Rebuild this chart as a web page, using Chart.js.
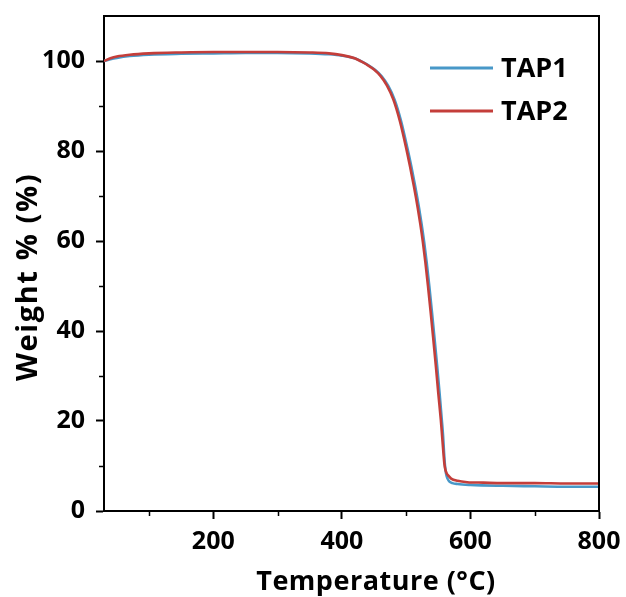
<!DOCTYPE html>
<html>
<head>
<meta charset="utf-8">
<script src="https://cdn.jsdelivr.net/npm/chart.js@4.4.1/dist/chart.umd.min.js"></script>
<style>
  html, body { margin: 0; padding: 0; background: #ffffff; }
  #wrap { width: 626px; height: 597px; position: relative; }
</style>
</head>
<body>
<div id="wrap"><canvas id="c" width="626" height="597"></canvas></div>
<script>
// ---------- data ----------
const tap2Temp = [30, 40, 50, 70, 100, 150, 200, 250, 300, 350, 380, 400, 420, 430, 440, 450, 460, 470, 480, 490, 500, 506, 512, 518, 522, 526, 530, 534, 538, 542, 546, 550, 554, 556, 558, 559.5, 561, 563, 566, 570, 580, 595, 620, 650, 700, 750, 800];
const tap2Weight = [100.0, 100.6, 101.0, 101.4, 101.7, 101.9, 102.0, 102.0, 102.0, 101.9, 101.7, 101.3, 100.6, 99.9, 99.1, 98.1, 96.7, 94.6, 91.5, 86.8, 80.7, 76.6, 72.2, 67.4, 63.8, 59.8, 55.2, 50.0, 44.4, 38.6, 32.6, 26.2, 20.2, 16.6, 12.9, 10.5, 9.2, 8.4, 7.8, 7.2, 6.7, 6.4, 6.3, 6.2, 6.2, 6.1, 6.1];

const tap1Temp = [30, 40, 50, 70, 100, 150, 200, 250, 300, 350, 380, 400, 422, 432, 442, 452, 462, 472, 482, 492, 502, 508, 514, 520, 524, 528, 532, 536, 540, 544, 548, 552, 555.5, 557.5, 559, 560.5, 562, 564, 567, 572, 580, 600, 650, 700, 750, 800];
const tap1Weight = [100.0, 100.4, 100.7, 101.1, 101.4, 101.6, 101.7, 101.8, 101.8, 101.7, 101.5, 101.2, 100.5, 99.8, 99.0, 98.0, 96.6, 94.5, 91.4, 86.7, 80.6, 76.6, 72.2, 67.4, 63.8, 59.8, 55.2, 50.0, 44.4, 38.6, 32.6, 26.2, 20.2, 16.6, 12.9, 10.0, 8.4, 7.3, 6.6, 6.2, 6.0, 5.8, 5.6, 5.5, 5.4, 5.4];

const seriesNames = ['TAP1', 'TAP2'];
const xMajorTicks = [200, 400, 600, 800];
const xMinorTicks = [100, 300, 500, 700];
const yMajorTicks = [0, 20, 40, 60, 80, 100];
const yMinorTicks = [10, 30, 50, 70, 90];
const xRange = [30, 800];
const yRange = [0, 110];
const xTitle = 'Temperature (°C)';
const yTitle = 'Weight % (%)';

// ---------- styles ----------
const BLUE = 'rgb(72,152,200)';
const RED = 'rgb(196,62,58)';
const FONT = '"Open Sans", "DejaVu Sans", sans-serif';

function toPoints(xs, ys) { return xs.map((x, i) => ({ x: x, y: ys[i] })); }

const framePlugin = {
  id: 'frameAndMinor',
  afterDraw(chart) {
    const { ctx, chartArea: a, scales } = chart;
    ctx.save();
    ctx.strokeStyle = '#000';
    ctx.lineWidth = 2;
    // top and right frame
    ctx.beginPath();
    ctx.moveTo(a.left, a.top);
    ctx.lineTo(a.right, a.top);
    ctx.lineTo(a.right, a.bottom);
    ctx.stroke();
    // minor ticks
    ctx.lineWidth = 1.5;
    ctx.beginPath();
    xMinorTicks.forEach(v => {
      const px = Math.round(scales.x.getPixelForValue(v)) + 0.5;
      ctx.moveTo(px, a.bottom);
      ctx.lineTo(px, a.bottom + 5);
    });
    yMinorTicks.forEach(v => {
      const py = Math.round(scales.y.getPixelForValue(v)) + 0.5;
      ctx.moveTo(a.left, py);
      ctx.lineTo(a.left - 5, py);
    });
    ctx.stroke();

    // axis titles
    ctx.fillStyle = '#000';
    ctx.textAlign = 'center';
    ctx.textBaseline = 'alphabetic';
    ctx.font = 'bold 27px ' + FONT;
    ctx.letterSpacing = '0.5px';
    ctx.fillText(xTitle, a.left + 272, 590);
    ctx.save();
    ctx.font = 'bold 29px ' + FONT;
    ctx.letterSpacing = '1.6px';
    ctx.translate(37, 277);
    ctx.rotate(-Math.PI / 2);
    ctx.fillText(yTitle, 0, 0);
    ctx.restore();
    ctx.letterSpacing = '0px';

    // legend
    const items = [
      { label: seriesNames[0], color: BLUE, y: 68 },
      { label: seriesNames[1], color: RED, y: 111 }
    ];
    ctx.lineWidth = 3;
    ctx.font = 'bold 27px ' + FONT;
    ctx.textBaseline = 'middle';
    ctx.textAlign = 'left';
    items.forEach(it => {
      ctx.strokeStyle = it.color;
      ctx.beginPath();
      ctx.moveTo(a.right - 169, it.y);
      ctx.lineTo(a.right - 106, it.y);
      ctx.stroke();
      ctx.fillStyle = '#000';
      ctx.fillText(it.label, a.right - 98, it.y + 1);
    });
    ctx.restore();
  }
};

new Chart(document.getElementById('c'), {
  type: 'line',
  data: {
    datasets: [
      {
        label: seriesNames[0],
        data: toPoints(tap1Temp, tap1Weight),
        borderColor: BLUE,
        borderWidth: 2.6,
        pointRadius: 0,
        cubicInterpolationMode: 'monotone',
        fill: false,
        order: 1
      },
      {
        label: seriesNames[1],
        data: toPoints(tap2Temp, tap2Weight),
        borderColor: RED,
        borderWidth: 2.6,
        pointRadius: 0,
        cubicInterpolationMode: 'monotone',
        fill: false,
        order: 0
      }
    ]
  },
  options: {
    responsive: false,
    animation: false,
    devicePixelRatio: 1,
    layout: { padding: { left: 0, right: 27, top: 16, bottom: 0 } },
    plugins: {
      legend: { display: false },
      tooltip: { enabled: false }
    },
    scales: {
      x: {
        type: 'linear',
        min: xRange[0],
        max: xRange[1],
        afterBuildTicks: s => { s.ticks = xMajorTicks.map(v => ({ value: v })); },
        afterFit: s => { s.height = 86; s.paddingLeft = 0; s.paddingRight = 0; },
        grid: {
          drawOnChartArea: false,
          drawTicks: true,
          tickLength: 8,
          tickWidth: 2,
          tickColor: '#000'
        },
        border: { display: true, color: '#000', width: 2 },
        ticks: {
          color: '#000',
          padding: 8,
          maxRotation: 0,
          font: { family: FONT, size: 25, weight: 'bold' }
        },
        title: { display: false }
      },
      y: {
        type: 'linear',
        min: yRange[0],
        max: yRange[1],
        afterBuildTicks: s => { s.ticks = yMajorTicks.map(v => ({ value: v })); },
        afterFit: s => { s.width = 104; s.paddingTop = 0; s.paddingBottom = 0; },
        grid: {
          drawOnChartArea: false,
          drawTicks: true,
          tickLength: 8,
          tickWidth: 2,
          tickColor: '#000'
        },
        border: { display: true, color: '#000', width: 2 },
        ticks: {
          color: '#000',
          padding: 11,
          font: { family: FONT, size: 25, weight: 'bold' }
        },
        title: { display: false }
      }
    }
  },
  plugins: [framePlugin]
});
</script>
</body>
</html>
